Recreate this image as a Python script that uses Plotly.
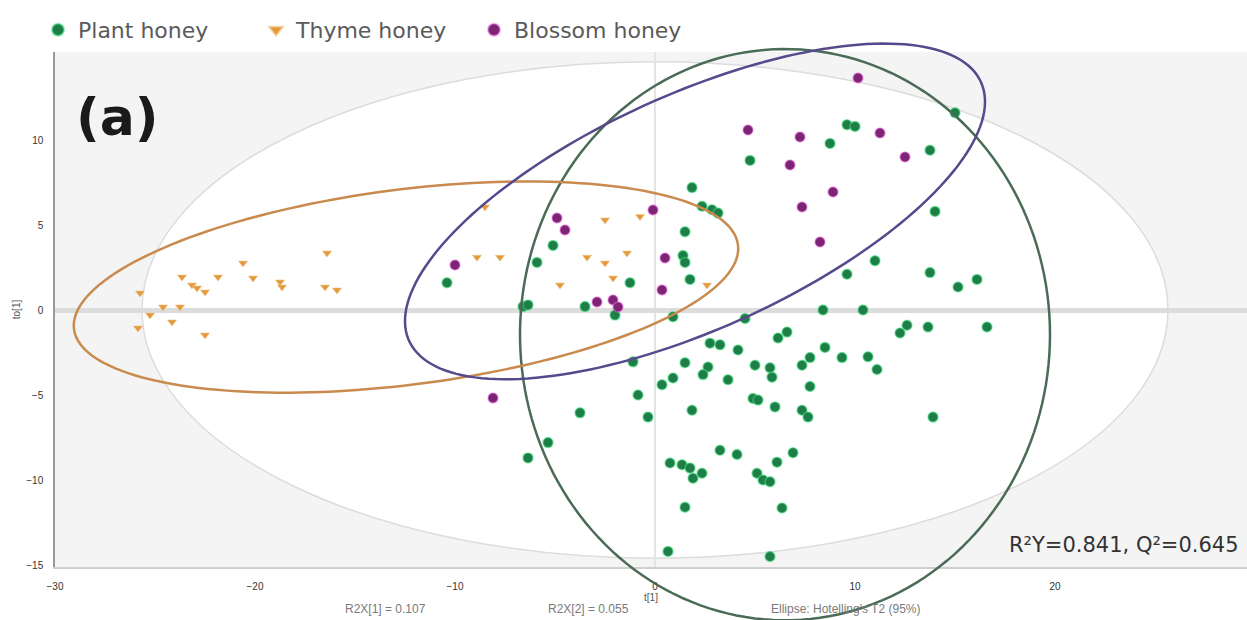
import numpy as np
import plotly.graph_objects as go

# ---- scores (t[1], to[1]) per honey type ----
plant_x = [15.0, 9.6, 10.0, 8.75, 13.75, 4.75, 1.85, 2.35, 2.85, 3.15, 14.0, 1.5, -5.1, 1.4,
           1.5, -5.9, 11.0, 9.6, 13.75, 1.75, -1.25, 15.15, 16.1, -10.4, -6.6, -6.35, -3.5,
           -2.0, 0.9, 4.5, 8.4, 10.4, 12.6, 13.65, 16.6, 12.25, 6.6, 6.15, 2.75, 3.25, 4.15,
           8.5, 9.35, 10.65, 11.1, 1.5, 2.65, 2.4, 0.9, 0.35, -1.1, 3.65, 5.0, 5.75, 5.85,
           7.75, 7.35, 7.75, -0.85, 4.9, 5.15, 6.0, 7.35, 7.65, -3.75, -0.35, 1.85, 13.9,
           -5.35, -6.35, 3.25, 4.1, 6.1, 6.9, 0.75, 1.35, 1.75, 1.9, 2.35, 5.1, 5.4, 5.75,
           1.5, 6.35, 0.65, 5.75]
plant_y = [11.6, 10.9, 10.8, 9.8, 9.4, 8.8, 7.2, 6.1, 5.9, 5.7, 5.8, 4.6, 3.8, 3.2,
           2.8, 2.8, 2.9, 2.1, 2.2, 1.8, 1.6, 1.35, 1.8, 1.6, 0.2, 0.3, 0.2,
           -0.3, -0.4, -0.5, 0.0, 0.0, -0.9, -1.0, -1.0, -1.35, -1.3, -1.65, -1.95, -2.05, -2.35,
           -2.2, -2.8, -2.75, -3.5, -3.1, -3.35, -3.8, -4.0, -4.4, -3.05, -4.1, -3.25, -3.4, -3.95,
           -2.8, -3.25, -4.5, -5.0, -5.2, -5.3, -5.7, -5.9, -6.3, -6.05, -6.3, -5.9, -6.3,
           -7.8, -8.7, -8.25, -8.5, -8.95, -8.4, -9.0, -9.1, -9.3, -9.9, -9.6, -9.6, -10.0, -10.1,
           -11.6, -11.65, -14.2, -14.5]

thyme_x = [-25.75, -24.6, -23.75, -25.25, -24.15, -25.85, -23.65, -23.15, -22.9, -22.5,
           -21.85, -20.6, -20.1, -18.75, -18.65, -16.4, -16.5, -15.9, -22.5, -8.9, -7.75,
           -2.5, -0.75, -3.4, -2.5, -1.4, -2.1, -4.75, 2.6, -8.5]
thyme_y = [1.0, 0.18, 0.18, -0.3, -0.7, -1.06, 1.94, 1.47, 1.29, 1.06,
           1.94, 2.76, 1.88, 1.65, 1.35, 3.35, 1.35, 1.18, -1.47, 3.1, 3.1,
           5.3, 5.5, 3.1, 2.76, 3.35, 1.88, 1.47, 1.47, 6.06]

blossom_x = [10.15, 4.65, 7.25, 11.25, 12.5, 6.75, 8.9, 7.35, 8.25, -0.1, -4.9, -4.5,
             -10.0, 0.5, 0.35, -2.9, -2.1, -1.85, -8.1]
blossom_y = [13.65, 10.59, 10.18, 10.41, 9.0, 8.53, 6.94, 6.06, 4.0, 5.88, 5.41, 4.71,
             2.65, 3.06, 1.18, 0.47, 0.59, 0.18, -5.18]

series_names = ["Plant honey", "Thyme honey", "Blossom honey"]

x_ticks = [-30, -20, -10, 0, 10, 20]
y_ticks = [-15, -10, -5, 0, 5, 10]

# Hotelling's T2 (95%) semi-axes
t2_radii = [25.65, 14.6]

# Group ellipses: centre, first and second conjugate semi-axis vectors
ellipse_centers = [[6.5, -1.45], [-12.45, 1.35], [2.0, 5.8]]
ellipse_u = [[13.25, 0.0], [16.6, 2.47], [14.3, 7.6]]
ellipse_v = [[0.0, 16.8], [0.6, -5.7], [2.4, -6.3]]
ellipse_colors = ["#4a6b55", "#c98a4e", "#564a8c"]

fit_text = "R\u00b2Y=0.841, Q\u00b2=0.645"
footer_texts = ["R2X[1] = 0.107", "R2X[2] = 0.055", "Ellipse: Hotelling's T2 (95%)"]

# ---- layout geometry ----
W, H = 1247, 620
M_L, M_R, M_T, M_B = 55, 0, 52, 53
PX_PER_X, PX_PER_Y = 20.0, 17.0
plot_w = W - M_L - M_R
plot_h = H - M_T - M_B
x_range = [-30.0, -30.0 + plot_w / PX_PER_X]
y_top = 258 / PX_PER_Y
y_range = [y_top - plot_h / PX_PER_Y, y_top]


def to_paper(x, y):
    return ((np.asarray(x) - x_range[0]) / (x_range[1] - x_range[0]),
            (np.asarray(y) - y_range[0]) / (y_range[1] - y_range[0]))


def ellipse_path(c, u, v, n=180):
    t = np.linspace(0, 2 * np.pi, n)
    ex = c[0] + u[0] * np.cos(t) + v[0] * np.sin(t)
    ey = c[1] + u[1] * np.cos(t) + v[1] * np.sin(t)
    px, py = to_paper(ex, ey)
    pts = [f"{a:.5f},{b:.5f}" for a, b in zip(px, py)]
    return "M " + " L ".join(pts) + " Z"


fig = go.Figure()

fig.add_trace(go.Scatter(
    x=plant_x, y=plant_y, mode="markers", name=series_names[0],
    marker=dict(symbol="circle", size=10, color="#1f7d48",
                line=dict(color="rgba(70,225,130,0.55)", width=1.5))))
fig.add_trace(go.Scatter(
    x=thyme_x, y=thyme_y, mode="markers", name=series_names[1],
    marker=dict(symbol="triangle-down", size=8, color="#e49a3c",
                line=dict(color="rgba(240,200,140,0.6)", width=1))))
fig.add_trace(go.Scatter(
    x=blossom_x, y=blossom_y, mode="markers", name=series_names[2],
    marker=dict(symbol="circle", size=10, color="#7e2475",
                line=dict(color="rgba(235,110,225,0.5)", width=1.5))))

shapes = [dict(type="circle", xref="x", yref="y", layer="below",
               x0=-t2_radii[0], x1=t2_radii[0], y0=-t2_radii[1], y1=t2_radii[1],
               fillcolor="white", line=dict(color="#dcdcdc", width=1.5))]
for c, u, v, col in zip(ellipse_centers, ellipse_u, ellipse_v, ellipse_colors):
    shapes.append(dict(type="path", xref="paper", yref="paper", layer="above",
                       path=ellipse_path(c, u, v), line=dict(color=col, width=2.5)))

annotations = [
    dict(text="<b>(a)</b>", xref="paper", yref="paper",
         x=(74 - M_L) / plot_w, y=(H - M_B - 117) / plot_h,
         xanchor="left", yanchor="middle", showarrow=False,
         font=dict(family="DejaVu Sans", size=52, color="#1a1a1a")),
    dict(text=fit_text, xref="paper", yref="paper",
         x=(1241 - M_L) / plot_w, y=(H - M_B - 545) / plot_h,
         xanchor="right", yanchor="middle", showarrow=False,
         font=dict(family="DejaVu Sans", size=21, color="#333")),
]
for txt, cx in zip(footer_texts, [385, 588, 845]):
    annotations.append(dict(text=txt, xref="paper", yref="paper",
                            x=(cx - M_L) / plot_w, y=(H - M_B - 609) / plot_h,
                            xanchor="center", yanchor="middle", showarrow=False,
                            font=dict(family="Liberation Sans", size=12, color="#7a7a7a")))

fig.update_layout(
    width=W, height=H,
    margin=dict(l=M_L, r=M_R, t=M_T, b=M_B, autoexpand=False),
    paper_bgcolor="white", plot_bgcolor="#f4f4f4",
    shapes=shapes, annotations=annotations,
    showlegend=True,
    legend=dict(orientation="h", xref="container", yref="container",
                x=38 / W, y=1 - 9 / H, xanchor="left", yanchor="top",
                itemsizing="constant", bgcolor="rgba(0,0,0,0)",
                font=dict(family="DejaVu Sans", size=22, color="#5a5a5a"),
                tracegroupgap=0, itemwidth=30, entrywidth=173, entrywidthmode="pixels"),
    xaxis=dict(range=x_range, tickvals=x_ticks, showgrid=False,
               zeroline=True, zerolinecolor="#e4e4e4", zerolinewidth=1.5,
               showline=True, linecolor="#cfcfcf", linewidth=2,
               ticks="", ticklabelstandoff=9,
               tickfont=dict(family="Liberation Sans", size=10, color="#333"),
               title=dict(text="t[1]", standoff=2,
                          font=dict(family="Liberation Sans", size=10, color="#555"))),
    yaxis=dict(range=y_range, tickvals=y_ticks, showgrid=False,
               zeroline=True, zerolinecolor="#dcdcdc", zerolinewidth=5,
               showline=True, linecolor="#9a9a9a", linewidth=1.5,
               ticks="", ticklabelstandoff=8,
               tickfont=dict(family="Liberation Sans", size=10, color="#333"),
               title=dict(text="to[1]", standoff=4,
                          font=dict(family="Liberation Sans", size=10, color="#555"))),
)

fig.write_html("out.html")
